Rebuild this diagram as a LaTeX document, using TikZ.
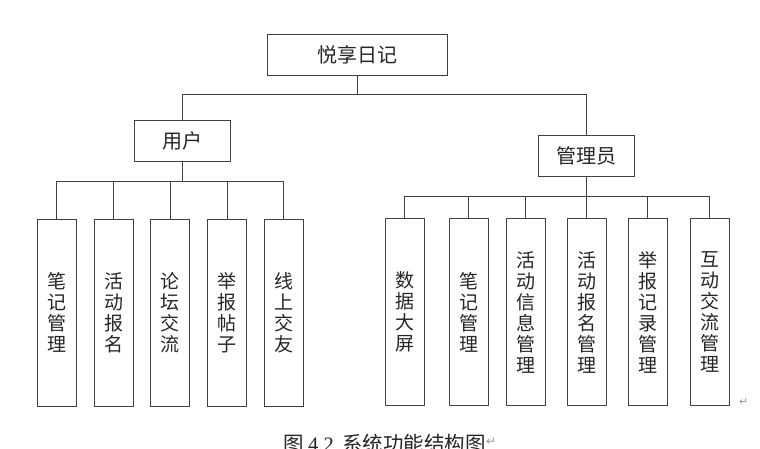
\documentclass[tikz,border=0pt]{standalone}
\usepackage{fontspec}
\setmainfont{Noto Sans CJK SC}
\newfontfamily\latinserif{Liberation Serif}
\newfontfamily\symfont{DejaVu Sans}
\begin{document}
\begin{tikzpicture}[x=1pt,y=-1pt,
  box/.style={draw=black!75,line width=0.9pt,rectangle,inner sep=0pt,
    font=\fontsize{19}{21}\selectfont,text=black!85},
  head/.style={box,minimum height=41pt,font=\fontsize{20}{21}\selectfont},
  leaf/.style={box,minimum width=39pt,minimum height=187pt,align=center},
  conn/.style={draw=black!75,line width=0.9pt},
  pmark/.style={text=black!40,font=\symfont\fontsize{11}{11}\selectfont,inner sep=0pt}]
\useasboundingbox[fill=white] (0,0) rectangle (760,448);
% head nodes
\node[head,minimum width=180pt] (top) at (357,54.5) {悦享日记};
\node[head,minimum width=96pt] (user) at (182,141) {用户};
\node[head,minimum width=96pt] (admin) at (586,155.5) {管理员};
% user leaves
\node[leaf] (u1) at (56.5,312.5) {笔\\记\\管\\理};
\node[leaf] (u2) at (113.5,312.5) {活\\动\\报\\名};
\node[leaf] (u3) at (170,312.5) {论\\坛\\交\\流};
\node[leaf] (u4) at (227,312.5) {举\\报\\帖\\子};
\node[leaf] (u5) at (283.5,312.5) {线\\上\\交\\友};
% admin leaves
\node[leaf] (a1) at (404.5,312) {数\\据\\大\\屏};
\node[leaf] (a2) at (468.5,312) {笔\\记\\管\\理};
\node[leaf] (a3) at (525.5,312) {活\\动\\信\\息\\管\\理};
\node[leaf] (a4) at (586.5,312) {活\\动\\报\\名\\管\\理};
\node[leaf] (a5) at (647.5,312) {举\\报\\记\\录\\管\\理};
\node[leaf] (a6) at (709.5,312) {互\\动\\交\\流\\管\\理};
% bus coordinates
\coordinate (b0) at (357,94);
\coordinate (b1) at (182,181);
\coordinate (b2) at (586,196);
% connectors
\draw[conn] (top.south) -- (b0);
\draw[conn] (user.north) |- (b0);
\draw[conn] (admin.north) |- (b0);
\draw[conn] (user.south) -- (b1);
\foreach \c in {u1,u2,u3,u4,u5} \draw[conn] (\c.north) |- (b1);
\draw[conn] (admin.south) -- (b2);
\foreach \c in {a1,a2,a3,a4,a5,a6} \draw[conn] (\c.north) |- (b2);
% paragraph mark and caption
\node[pmark,anchor=south west] (pm1) at (739,406) {↵};
\node[anchor=base west,inner sep=0pt,text=black!85,font=\fontsize{20.5}{22}\selectfont] (cap) at (283,451)
  {图\hspace{4.5pt}{\latinserif 4.2}\hspace{8.5pt}系统功能结构图};
\node[pmark,anchor=base west,font=\symfont\fontsize{12}{12}\selectfont] (pm2) at ([yshift=6pt]cap.base east) {↵};
\end{tikzpicture}
\end{document}
